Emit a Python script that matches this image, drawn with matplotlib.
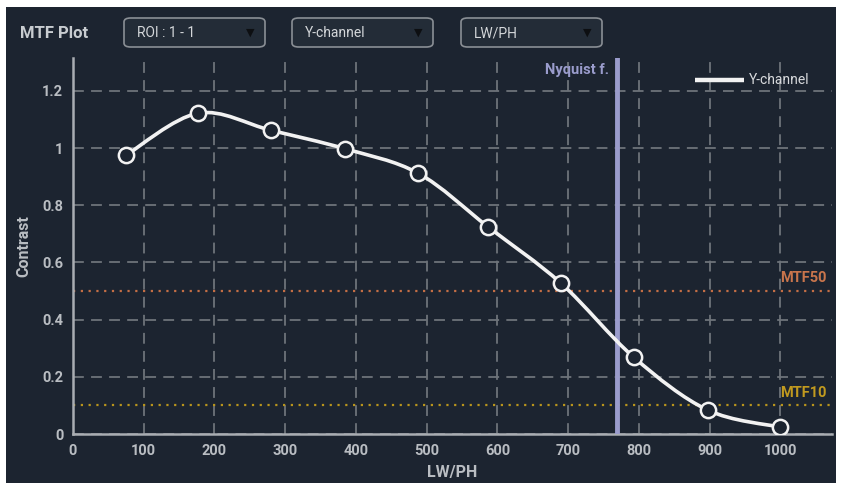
import numpy as np
import matplotlib.pyplot as plt
from matplotlib.path import Path
from matplotlib.patches import PathPatch, FancyBboxPatch, Rectangle

# measured MTF points (LW/PH, contrast)
freq = [75, 177, 280, 384, 488, 587, 690, 793, 897, 1000]
contrast = [0.975, 1.122, 1.062, 0.998, 0.912, 0.724, 0.527, 0.268, 0.084, 0.024]
nyquist = 769
mtf50 = 0.5
mtf10 = 0.1
x_ticks = [0, 100, 200, 300, 400, 500, 600, 700, 800, 900, 1000]
y_ticks = [0, 0.2, 0.4, 0.6, 0.8, 1.0, 1.2]
y_tick_labels = ["0", "0.2", "0.4", "0.6", "0.8", "1", "1.2"]
dropdowns = ["ROI : 1 - 1", "Y-channel", "LW/PH"]

bg = "#1c2430"
txt = "#b9bdc2"
plt.rcParams['font.family'] = ['Liberation Sans Narrow', 'Roboto', 'DejaVu Sans']


def smooth_path(xs, ys, t=1/6):
    # catmull-rom style bezier through the points (drawing only)
    xs = np.asarray(xs, float)
    ys = np.asarray(ys, float)
    verts = [(xs[0], ys[0])]
    codes = [Path.MOVETO]
    n = len(xs)
    for i in range(n - 1):
        i0 = max(i - 1, 0)
        i3 = min(i + 2, n - 1)
        c1 = (xs[i] + (xs[i + 1] - xs[i0]) * t, ys[i] + (ys[i + 1] - ys[i0]) * t)
        c2 = (xs[i + 1] - (xs[i3] - xs[i]) * t, ys[i + 1] - (ys[i3] - ys[i]) * t)
        verts += [c1, c2, (xs[i + 1], ys[i + 1])]
        codes += [Path.CURVE4] * 3
    return Path(verts, codes)


fig = plt.figure(figsize=(8.43, 4.88), dpi=100)
fig.patch.set_facecolor("white")
fig.patches.append(Rectangle((6 / 843, 5 / 488), 830 / 843, 476 / 488,
                             transform=fig.transFigure, facecolor=bg,
                             edgecolor="none", zorder=-10))

ax = fig.add_axes([73 / 843, 1 - 434 / 488, 759 / 843, 376 / 488])
ax.set_facecolor(bg)
ax.set_xlim(0, 1073)
ax.set_ylim(0, 1.315)

ax.set_xticks(x_ticks)
ax.set_yticks(y_ticks)
ax.set_yticklabels(y_tick_labels)
ax.tick_params(length=0, pad=7, colors=txt, labelsize=10.5)
for lab in ax.get_xticklabels() + ax.get_yticklabels():
    lab.set_fontweight("bold")
ax.grid(True, color="#6d737a", linestyle=(0, (6, 4)), linewidth=1.3)
ax.set_axisbelow(True)

for side in ["top", "right"]:
    ax.spines[side].set_visible(False)
for side in ["left", "bottom"]:
    ax.spines[side].set_color("#a9adb2")
    ax.spines[side].set_linewidth(1.8)

ax.set_xlabel("LW/PH", color=txt, fontsize=11.5, fontweight="bold", labelpad=5)
ax.set_ylabel("Contrast", color=txt, fontsize=11.5, fontweight="bold", labelpad=8)

# reference levels
ax.axhline(mtf50, color="#c46e45", linestyle=(0, (1, 2.5)), linewidth=1.6)
ax.axhline(mtf10, color="#b8941c", linestyle=(0, (1, 2.5)), linewidth=1.6)
ax.text(1066, mtf50 + 0.02, "MTF50", color="#c9754c", fontsize=10.5,
        fontweight="bold", ha="right", va="bottom", zorder=4)
ax.text(1066, mtf10 + 0.02, "MTF10", color="#c19a1f", fontsize=10.5,
        fontweight="bold", ha="right", va="bottom", zorder=4)

# nyquist
ax.axvline(nyquist, color="#9a9ccc", linewidth=3.5, zorder=3)
ax.text(nyquist - 11, 1.272, "Nyquist f.", color="#9a9ccc", fontsize=10.5,
        fontweight="bold", ha="right", va="center")

# curve
ax.add_patch(PathPatch(smooth_path(freq, contrast), facecolor="none",
                       edgecolor="#f2f2f2", linewidth=2.6, zorder=4,
                       capstyle="round"))
ax.plot(freq, contrast, linestyle="none", marker="o", markersize=11,
        markerfacecolor=bg, markeredgecolor="#f2f2f2",
        markeredgewidth=1.8, zorder=5)

# legend
ax.plot([880, 948], [1.238, 1.238], color="#f2f2f2", linewidth=3.2,
        solid_capstyle="butt", zorder=5)
ax.text(955, 1.238, "Y-channel", color="#d8dadd", fontsize=10,
        va="center", ha="left")

# header
fig.text(20 / 843, 1 - 33 / 488, "MTF Plot", color="#c8ccd0", fontsize=12,
         fontweight="bold", va="center")
box_x = [124, 292, 461]
for bx, label in zip(box_x, dropdowns):
    fig.patches.append(FancyBboxPatch((bx / 843, 1 - 47 / 488), 141 / 843, 29 / 488,
                                      boxstyle="round,pad=0,rounding_size=0.008",
                                      transform=fig.transFigure,
                                      facecolor="#232c37", edgecolor="#8a8f95",
                                      linewidth=1.2, zorder=1))
    fig.text((bx + 13) / 843, 1 - 33 / 488, label, color="#d4d7da",
             fontsize=10, va="center")
    fig.text((bx + 126) / 843, 1 - 33 / 488, "\u25bc", color="#0d0f12",
             fontsize=8, va="center", ha="center",
             family=["DejaVu Sans"])

fig.savefig("out.png", dpi=100, facecolor=fig.get_facecolor())
